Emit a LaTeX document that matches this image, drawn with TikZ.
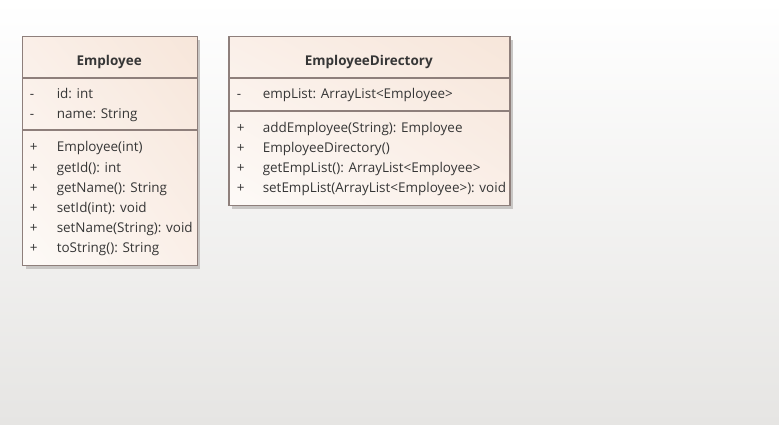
\documentclass[tikz,border=0pt]{standalone}
\usepackage{fontspec}
\setmainfont{Open Sans}
\usetikzlibrary{shadings}
\definecolor{bgbot}{HTML}{E6E5E3}
\definecolor{boxline}{HTML}{8E7F7B}
\definecolor{peach}{HTML}{F7E6DA}
\definecolor{peachmid}{HTML}{FAEFE8}
\definecolor{peachlight}{HTML}{FDFAF7}
\definecolor{txt}{HTML}{363636}
\definecolor{shadowc}{HTML}{C8C6C4}
\begin{document}
\begin{tikzpicture}[x=0.75pt,y=-0.75pt,
  umlbox/.style={draw=boxline, line width=0.9pt, rectangle, inner sep=0pt, anchor=north west,
     lower left=peachlight, upper right=peach, upper left=peachmid, lower right=peachmid},
  sep/.style={draw=boxline, line width=0.9pt},
  shadowbox/.style={fill=shadowc, draw=none},
  ttl/.style={font=\fontsize{10.1pt}{12pt}\selectfont\bfseries, text=txt, inner sep=0pt, anchor=base},
  mem/.style={font=\fontsize{10.1pt}{12pt}\selectfont, text=txt, inner sep=0pt, anchor=base west}
]
\useasboundingbox (0,0) rectangle (779,425);
\shade[top color=white, bottom color=bgbot] (0,0) rectangle (779,425);

% ---------- Employee ----------
\fill[shadowbox] (25.5,39.5) rectangle (199.5,268.5);
\node[umlbox, minimum width=174.5*0.75pt, minimum height=229*0.75pt] (emp) at (22,36) {};
\draw[sep] (emp.west |- 0,78) -- (emp.east |- 0,78);
\draw[sep] (emp.west |- 0,130) -- (emp.east |- 0,130);
\node[ttl] (empT) at (109.2,65.8) {Employee};
\node[mem] (e1s) at (29.5,98.8) {-};   \node[mem] (e1) at (56.5,98.8) {id: int};
\node[mem] (e2s) at (29.5,118.9) {-};  \node[mem] (e2) at (56.5,118.9) {name: String};
\node[mem] (e3s) at (29.5,151.9) {+};  \node[mem] (e3) at (56.5,151.9) {Employee(int)};
\node[mem] (e4s) at (29.5,172.0) {+};  \node[mem] (e4) at (56.5,172.0) {getId(): int};
\node[mem] (e5s) at (29.5,192.1) {+};  \node[mem] (e5) at (56.5,192.1) {getName(): String};
\node[mem] (e6s) at (29.5,212.2) {+};  \node[mem] (e6) at (56.5,212.2) {setId(int): void};
\node[mem] (e7s) at (29.5,232.3) {+};  \node[mem] (e7) at (56.5,232.3) {setName(String): void};
\node[mem] (e8s) at (29.5,252.4) {+};  \node[mem] (e8) at (56.5,252.4) {toString(): String};

% ---------- EmployeeDirectory ----------
\fill[shadowbox] (231.8,39.5) rectangle (512.8,208.5);
\node[umlbox, minimum width=281*0.75pt, minimum height=169*0.75pt] (dir) at (228.3,36) {};
\draw[sep] (dir.west |- 0,78) -- (dir.east |- 0,78);
\draw[sep] (dir.west |- 0,111) -- (dir.east |- 0,111);
\node[ttl] (dirT) at (368.8,65.8) {EmployeeDirectory};
\node[mem] (d1s) at (236.5,98.8) {-};   \node[mem] (d1) at (262.5,98.8) {empList: ArrayList<Employee>};
\node[mem] (d2s) at (236.5,132.2) {+};  \node[mem] (d2) at (262.5,132.2) {addEmployee(String): Employee};
\node[mem] (d3s) at (236.5,152.3) {+};  \node[mem] (d3) at (262.5,152.3) {EmployeeDirectory()};
\node[mem] (d4s) at (236.5,172.4) {+};  \node[mem] (d4) at (262.5,172.4) {getEmpList(): ArrayList<Employee>};
\node[mem] (d5s) at (236.5,192.5) {+};  \node[mem] (d5) at (262.5,192.5) {setEmpList(ArrayList<Employee>): void};
\end{tikzpicture}
\end{document}
